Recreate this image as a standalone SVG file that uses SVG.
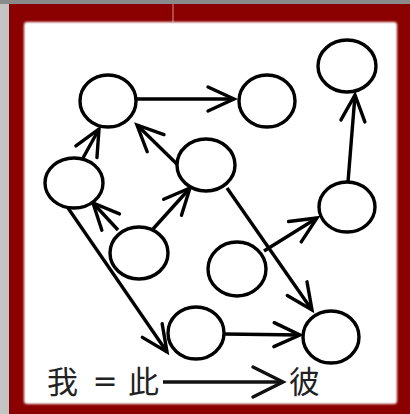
<svg xmlns="http://www.w3.org/2000/svg" width="410" height="414" viewBox="0 0 410 414">
  <defs>
    <linearGradient id="bg" x1="0" y1="0" x2="1" y2="0">
      <stop offset="0" stop-color="#c4c4c4"/>
      <stop offset="1" stop-color="#8c8c8c"/>
    </linearGradient>
    <filter id="soft" x="-5%" y="-5%" width="110%" height="110%">
      <feGaussianBlur stdDeviation="1"/>
    </filter>
    <marker id="head" markerUnits="userSpaceOnUse" markerWidth="34" markerHeight="32" viewBox="-32 -16 34 32" refX="0" refY="0" orient="auto" overflow="visible">
      <path d="M-26,-12 L0,0 L-26,12" fill="none" stroke="#000" stroke-width="3.4" stroke-linecap="round"/>
    </marker>
    <marker id="head-lg" markerUnits="userSpaceOnUse" markerWidth="36" markerHeight="34" viewBox="-34 -17 36 34" refX="0" refY="0" orient="auto" overflow="visible">
      <path d="M-30,-15 L0,0 L-30,15" fill="none" stroke="#111" stroke-width="3.4" stroke-linecap="round"/>
    </marker>
  </defs>
  <style>
    .node ellipse { fill: #fff; stroke: #000; stroke-width: 3.4; }
    .edge { stroke: #000; stroke-width: 3.4; fill: none; marker-end: url(#head); }
    .label { font-family: "Noto Sans CJK SC", "Noto Sans", sans-serif; font-size: 31px; fill: #222; }
    .eq { font-family: "DejaVu Sans", sans-serif; font-size: 30px; }
  </style>

  <!-- frame -->
  <rect x="0" y="0" width="410" height="414" fill="url(#bg)"/>
  <rect x="0" y="0" width="410" height="4" fill="#8a8a8a"/>
  <rect x="9" y="4" width="401" height="410" fill="#8b0000"/>
  <line x1="173" y1="4" x2="173" y2="22" stroke="#b04a4a" stroke-width="2"/>
  <rect x="24" y="22" width="373" height="382" rx="3" fill="#fff" filter="url(#soft)"/>

  <!-- connectors -->
  <g id="edges">
    <line class="edge" x1="137" y1="99" x2="234" y2="99"/>
    <line class="edge" x1="83" y1="158" x2="99" y2="129"/>
    <line class="edge" x1="183" y1="170" x2="137" y2="125"/>
    <line class="edge" x1="118" y1="230" x2="93" y2="203"/>
    <line class="edge" x1="153" y1="229" x2="190" y2="188"/>
    <line class="edge" x1="68" y1="208" x2="167" y2="352"/>
    <line class="edge" x1="227" y1="188" x2="312" y2="310"/>
    <line class="edge" x1="264" y1="251" x2="317" y2="218"/>
    <line class="edge" x1="348" y1="182" x2="355" y2="95"/>
    <line class="edge" x1="224" y1="334" x2="300" y2="335"/>
  </g>

  <!-- nodes -->
  <g id="n-a" class="node"><ellipse cx="108" cy="101" rx="28" ry="26"/></g>
  <g id="n-b" class="node"><ellipse cx="267" cy="101" rx="28" ry="26"/></g>
  <g id="n-c" class="node"><ellipse cx="347" cy="66" rx="29" ry="26"/></g>
  <g id="n-d" class="node"><ellipse cx="74" cy="183" rx="29" ry="25"/></g>
  <g id="n-e" class="node"><ellipse cx="206" cy="165" rx="29" ry="26"/></g>
  <g id="n-f" class="node"><ellipse cx="347" cy="207" rx="28" ry="25"/></g>
  <g id="n-g" class="node"><ellipse cx="139" cy="253" rx="29" ry="26"/></g>
  <g id="n-h" class="node"><ellipse cx="237" cy="269" rx="29" ry="27"/></g>
  <g id="n-i" class="node"><ellipse cx="196" cy="333" rx="28" ry="26"/></g>
  <g id="n-j" class="node"><ellipse cx="331" cy="337" rx="28" ry="26"/></g>

  <!-- legend -->
  <g id="legend">
    <text class="label" y="393"><tspan x="47">我</tspan><tspan class="eq" x="105" y="391" text-anchor="middle">=</tspan><tspan x="128" y="393">此</tspan></text>
    <line x1="163" y1="382" x2="283" y2="382" stroke="#111" stroke-width="3.4" marker-end="url(#head-lg)"/>
    <text class="label" x="289" y="393">彼</text>
  </g>
</svg>
